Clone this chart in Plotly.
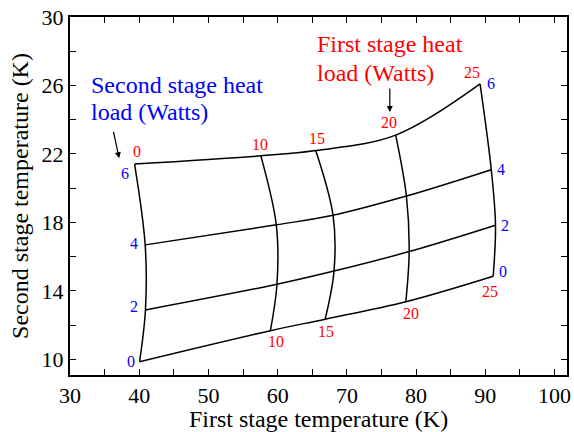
import plotly.graph_objects as go

# Heat loads
first_stage_loads = [0, 10, 15, 20, 25]      # W (red labels)
second_stage_loads = [0, 2, 4, 6]            # W (blue labels)

# First stage temperature (K) at each node, one list per second stage load
t1_q2_0 = [40.05, 58.95, 66.86, 78.52, 91.14]
t1_q2_2 = [40.90, 59.90, 68.14, 79.00, 91.47]
t1_q2_4 = [40.86, 59.80, 68.00, 78.60, 90.86]
t1_q2_6 = [39.33, 57.57, 65.50, 77.05, 89.24]

# Second stage temperature (K) at each node, one list per second stage load
t2_q2_0 = [9.87, 11.68, 12.35, 13.37, 14.86]
t2_q2_2 = [12.89, 14.39, 15.16, 16.30, 17.84]
t2_q2_4 = [16.69, 17.86, 18.42, 19.54, 21.08]
t2_q2_6 = [21.41, 21.89, 22.20, 23.10, 26.09]

T1 = [t1_q2_0, t1_q2_2, t1_q2_4, t1_q2_6]
T2 = [t2_q2_0, t2_q2_2, t2_q2_4, t2_q2_6]

x_tickvals = [30, 40, 50, 60, 70, 80, 90, 100]
y_tickvals = [10, 14, 18, 22, 26, 30]

FONT = "'Liberation Serif', 'Times New Roman', 'DejaVu Serif', serif"
RED = "#ff0000"
BLUE = "#0000ff"

fig = go.Figure()

# constant second-stage-load lines
for i in range(len(second_stage_loads)):
    fig.add_trace(go.Scatter(x=T1[i], y=T2[i], mode="lines",
                             line=dict(color="black", width=1.5, shape="spline", smoothing=1.0),
                             showlegend=False, hoverinfo="skip"))
# constant first-stage-load lines
for j in range(len(first_stage_loads)):
    xs = [T1[i][j] for i in range(len(second_stage_loads))]
    ys = [T2[i][j] for i in range(len(second_stage_loads))]
    fig.add_trace(go.Scatter(x=xs, y=ys, mode="lines",
                             line=dict(color="black", width=1.5, shape="spline", smoothing=1.0),
                             showlegend=False, hoverinfo="skip"))

ann = []
# red labels on top line (Q2 = 6)
top_shift = [(2, 13), (-1, 11), (1, 12), (-7, 13), (-8, 11)]
for j, q in enumerate(first_stage_loads):
    ann.append(dict(x=T1[3][j], y=T2[3][j], text=str(q), showarrow=False,
                    xshift=top_shift[j][0], yshift=top_shift[j][1],
                    font=dict(color=RED, size=16, family=FONT)))
# red labels on bottom line (Q2 = 0), skip 0
bot_shift = [None, (6, -11), (1, -12), (5, -12), (-3, -15)]
for j, q in enumerate(first_stage_loads):
    if bot_shift[j] is None:
        continue
    ann.append(dict(x=T1[0][j], y=T2[0][j], text=str(q), showarrow=False,
                    xshift=bot_shift[j][0], yshift=bot_shift[j][1],
                    font=dict(color=RED, size=16, family=FONT)))
# blue labels on left (Q1 = 0) and right (Q1 = 25)
left_shift = [(-9, 0), (-11, 3), (-11, 1), (-10, -9)]
right_shift = [(10, 5), (9, 0), (10, 0), (11, 0)]
for i, q in enumerate(second_stage_loads):
    ann.append(dict(x=T1[i][0], y=T2[i][0], text=str(q), showarrow=False,
                    xshift=left_shift[i][0], yshift=left_shift[i][1],
                    font=dict(color=BLUE, size=16, family=FONT)))
    ann.append(dict(x=T1[i][-1], y=T2[i][-1], text=str(q), showarrow=False,
                    xshift=right_shift[i][0], yshift=right_shift[i][1],
                    font=dict(color=BLUE, size=16, family=FONT)))

# descriptive text
ann += [
    dict(x=32.75, y=26.0, text="Second stage heat", showarrow=False, xanchor="left",
         font=dict(color=BLUE, size=24, family=FONT)),
    dict(x=32.75, y=24.45, text="load (Watts)", showarrow=False, xanchor="left",
         font=dict(color=BLUE, size=24, family=FONT)),
    dict(x=65.4, y=28.4, text="First stage heat", showarrow=False, xanchor="left",
         font=dict(color=RED, size=24, family=FONT)),
    dict(x=65.4, y=26.75, text="load (Watts)", showarrow=False, xanchor="left",
         font=dict(color=RED, size=24, family=FONT)),
    dict(x=37.1, y=21.75, ax=-6, ay=-28, text="", showarrow=True,
         arrowhead=2, arrowsize=1, arrowwidth=1.2, arrowcolor="black"),
    dict(x=76.2, y=24.45, ax=0, ay=-25, text="", showarrow=True,
         arrowhead=2, arrowsize=1, arrowwidth=1.2, arrowcolor="black"),
]

axis_common = dict(showline=True, linecolor="black", linewidth=2, mirror="ticks",
                   ticks="inside", ticklen=6, tickwidth=1, tickcolor="black",
                   showgrid=False, zeroline=False,
                   tickfont=dict(size=22, family=FONT, color="black"))

fig.update_layout(
    width=574, height=432,
    margin=dict(l=70, r=3, t=17, b=56),
    paper_bgcolor="white", plot_bgcolor="white",
    font=dict(family=FONT, color="black"),
    annotations=ann,
    xaxis=dict(range=[30, 101.8], tickvals=x_tickvals,
               minor=dict(dtick=5, tick0=30, ticks="inside", ticklen=6, tickcolor="black", tickwidth=1),
               title=dict(text="First stage temperature (K)", standoff=4,
                          font=dict(size=24, family=FONT, color="black")),
               **axis_common),
    yaxis=dict(range=[9.09, 30], tickvals=y_tickvals,
               minor=dict(dtick=2, tick0=10, ticks="inside", ticklen=6, tickcolor="black", tickwidth=1),
               title=dict(text="Second stage temperature (K)", standoff=6,
                          font=dict(size=24, family=FONT, color="black")),
               **axis_common),
)

fig.write_html("out.html")
